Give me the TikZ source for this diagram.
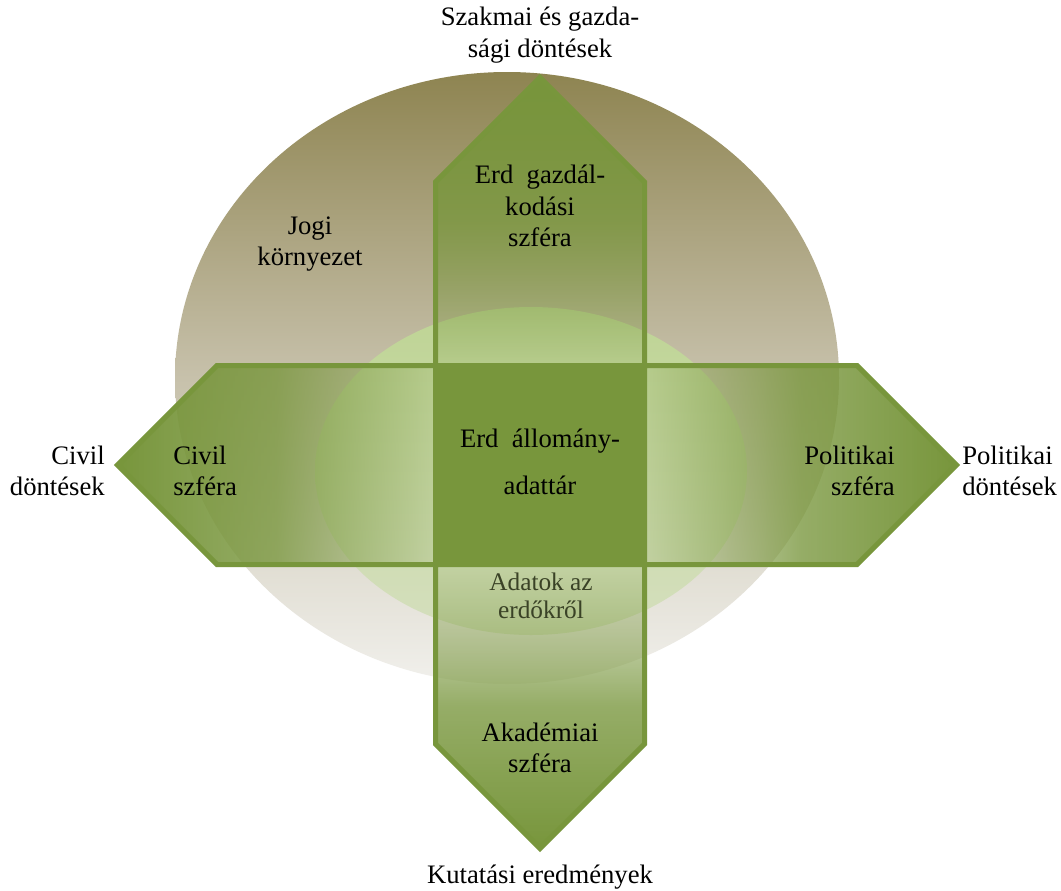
\documentclass[tikz,border=0pt]{standalone}
\usepackage{fontspec}
\setmainfont{Liberation Serif}
\usetikzlibrary{fadings}
\definecolor{armgreen}{RGB}{120,150,60}
\definecolor{ringtop}{RGB}{142,132,81}
\definecolor{ringmid}{RGB}{199,193,171}
\definecolor{ringbot}{RGB}{241,240,236}
\definecolor{coretop}{RGB}{190,212,148}
\definecolor{corebot}{RGB}{213,223,190}
\definecolor{datatext}{RGB}{58,66,38}
\tikzfading[name=armup,top color=transparent!0,bottom color=transparent!85,middle color=transparent!22]
\tikzfading[name=armdown,top color=transparent!85,bottom color=transparent!0,middle color=transparent!22]
\tikzfading[name=armleft,left color=transparent!0,right color=transparent!85,middle color=transparent!22]
\tikzfading[name=armright,left color=transparent!85,right color=transparent!0,middle color=transparent!22]
\begin{document}
\begin{tikzpicture}[x=0.75pt,y=-0.75pt,
  lbl/.style={font=\fontsize{20}{23.5}\selectfont,align=center,inner sep=0pt},
  arm/.style={draw=armgreen,line width=3.75pt}]
\fill[white] (0,0) rectangle (1061,890);
\useasboundingbox (0,0) rectangle (1061,890);
% jogi kornyezet
\shade[top color=ringtop,bottom color=ringbot,middle color=ringmid] (507,378) ellipse (332 and 306);
\shade[top color=coretop,bottom color=corebot] (531,471) ellipse (216 and 164);
% karok
\fill[armgreen,path fading=armup] (435.5,365.5) -- (435.5,182) -- (540,77.5) -- (644.5,182) -- (644.5,365.5) -- cycle;
\draw[arm] (435.5,365.5) -- (435.5,182) -- (540,77.5) -- (644.5,182) -- (644.5,365.5) -- cycle;
\fill[armgreen,path fading=armdown] (435.5,564.5) -- (435.5,744) -- (540,848.5) -- (644.5,744) -- (644.5,564.5) -- cycle;
\draw[arm] (435.5,564.5) -- (435.5,744) -- (540,848.5) -- (644.5,744) -- (644.5,564.5) -- cycle;
\fill[armgreen,path fading=armleft] (435.5,365.5) -- (217,365.5) -- (117.5,465) -- (217,564.5) -- (435.5,564.5) -- cycle;
\draw[arm] (435.5,365.5) -- (217,365.5) -- (117.5,465) -- (217,564.5) -- (435.5,564.5) -- cycle;
\fill[armgreen,path fading=armright] (644.5,365.5) -- (857,365.5) -- (956.5,465) -- (857,564.5) -- (644.5,564.5) -- cycle;
\draw[arm] (644.5,365.5) -- (857,365.5) -- (956.5,465) -- (857,564.5) -- (644.5,564.5) -- cycle;
\filldraw[arm,fill=armgreen] (435.5,365.5) rectangle (644.5,564.5);
% feliratok
\node[lbl] (szakmai) at (540,35) {Szakmai és gazda-\\sági döntések};
\node[lbl] (jogi) at (310,244) {Jogi\\környezet};
\node[lbl] (erdgazd) at (540,206) {Erd\ \ gazdál-\\kodási\\szféra};
\node[lbl,align=left,anchor=west] (civilszf) at (173,471) {Civil\\szféra};
\node[lbl,align=right,anchor=east] (civildont) at (105,471) {Civil\\döntések};
\node[lbl] (adattar) at (540,462) {Erd\ \ állomány-\\[12pt]adattár};
\node[lbl,align=right,anchor=east] (politszf) at (895,471) {Politikai\\szféra};
\node[lbl,align=left,anchor=west] (politdont) at (962,471) {Politikai\\döntések};
\node[lbl,font=\fontsize{19}{21}\selectfont,text=datatext] (adatok) at (541,596) {Adatok az\\erdőkről};
\node[lbl] (akad) at (540,748) {Akadémiai\\szféra};
\node[lbl] (kutatas) at (540,877) {Kutatási eredmények};
\end{tikzpicture}
\end{document}
